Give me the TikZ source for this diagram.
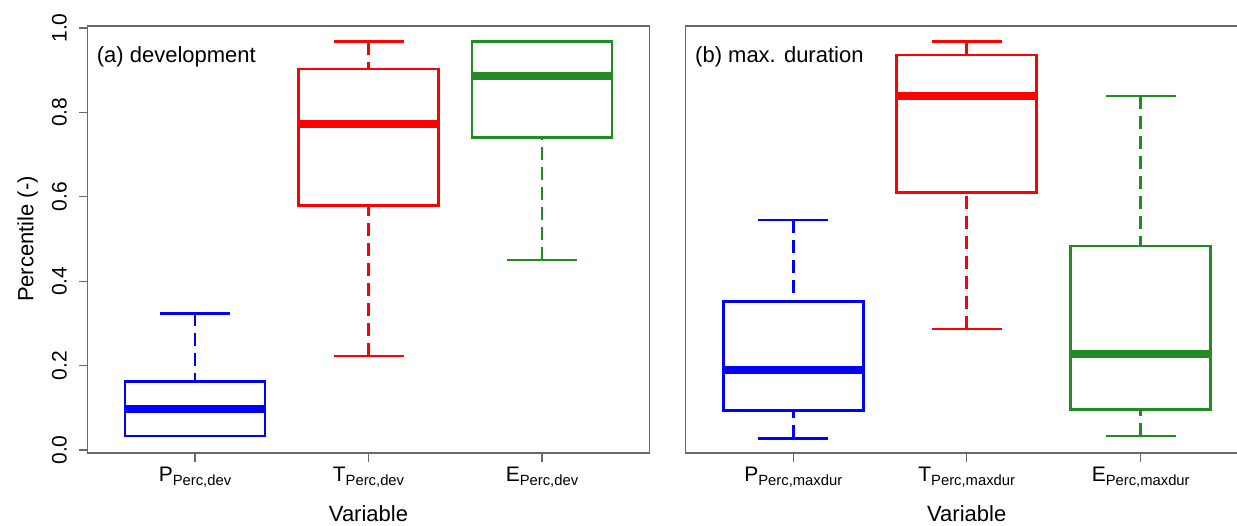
\documentclass[tikz,border=0pt]{standalone}
\usepackage{fontspec}
\setmainfont{Liberation Sans}
\definecolor{pblue}{RGB}{0,0,255}
\definecolor{tred}{RGB}{255,0,0}
\definecolor{egreen}{RGB}{34,139,34}
\definecolor{axgray}{RGB}{105,105,105}
% #1 colour, #2 x centre, #3 lower whisker, #4 Q1, #5 median, #6 Q3, #7 upper whisker
\newcommand{\mybxp}[7]{%
  \draw[whiskline,#1] (#2,#3) -- (#2,#4);
  \draw[whiskline,#1] (#2,#7) -- (#2,#6);
  \draw[capline,#1] ({#2-35},#3) -- ({#2+35},#3);
  \draw[capline,#1] ({#2-35},#7) -- ({#2+35},#7);
  \draw[boxline,#1] ({#2-70},#4) rectangle ({#2+70},#6);
  \draw[medline,#1] ({#2-70},#5) -- ({#2+70},#5);
}
\newcommand{\subl}[2]{#1\raisebox{-4pt}{\fontsize{14.8}{16}\selectfont #2}}
\begin{document}
\begin{tikzpicture}[x=1pt,y=-1pt,
  frameline/.style={draw=axgray,line width=1.3pt},
  tickline/.style={draw=axgray,line width=1.1pt},
  whiskline/.style={line width=2.6pt,dash pattern=on 13pt off 7pt},
  capline/.style={line width=2.6pt},
  boxline/.style={line width=2.6pt,line join=miter},
  medline/.style={line width=8pt},
  bigtext/.style={font=\fontsize{22}{26}\selectfont,inner sep=0pt},
  ticktext/.style={font=\fontsize{21}{25}\selectfont,inner sep=0pt}]
\useasboundingbox (0,0) rectangle (1237,525);
\clip (0,0) rectangle (1237,525);

% ---------- panel (a) ----------
\draw[frameline] (87.3,26) rectangle (649.3,453);
\foreach \v/\yy in {0.0/450,0.2/365.6,0.4/281.2,0.6/196.8,0.8/112.4,1.0/28}{
  \draw[tickline] (79,\yy) -- (87.3,\yy);
  \node[ticktext,anchor=base,rotate=90] (yl\v) at (66.7,\yy) {\v};
}
\node[bigtext,anchor=base,rotate=90] (ylab) at (33.3,239) {Percentile (-)};
\node[bigtext,anchor=base west] (ta) at (96.7,62) {(a) development};

\mybxp{pblue}{195}{436}{436}{409}{381.7}{313.3}
\mybxp{tred}{368.5}{356}{205.7}{123.7}{69}{41.7}
\mybxp{egreen}{542}{260}{137.3}{75.7}{41.7}{41.7}

\foreach \xx in {195,368.5,542}{\draw[tickline] (\xx,453) -- (\xx,462);}
\node[ticktext,anchor=base] (xa1) at (195,481) {\subl{P}{Perc,dev}};
\node[ticktext,anchor=base] (xa2) at (368.5,481) {\subl{T}{Perc,dev}};
\node[ticktext,anchor=base] (xa3) at (542,481) {\subl{E}{Perc,dev}};
\node[bigtext,anchor=base] (va) at (368.5,521.7) {Variable};

% ---------- panel (b) ----------
\draw[frameline] (685.7,26) rectangle (1248.3,453);
\node[bigtext,anchor=base west] (tb) at (695,62) {(b) max. duration};

\mybxp{pblue}{793.3}{438.3}{410.7}{370}{301.7}{220}
\mybxp{tred}{966.7}{329}{192.3}{96.3}{55}{41.7}
\mybxp{egreen}{1140.7}{436}{409.3}{354.3}{246}{96}

\foreach \xx in {793.3,966.7,1140.7}{\draw[tickline] (\xx,453) -- (\xx,462);}
\node[ticktext,anchor=base] (xb1) at (793.3,481) {\subl{P}{Perc,maxdur}};
\node[ticktext,anchor=base] (xb2) at (966.7,481) {\subl{T}{Perc,maxdur}};
\node[ticktext,anchor=base] (xb3) at (1140.7,481) {\subl{E}{Perc,maxdur}};
\node[bigtext,anchor=base] (vb) at (966.7,521.7) {Variable};
\end{tikzpicture}
\end{document}
